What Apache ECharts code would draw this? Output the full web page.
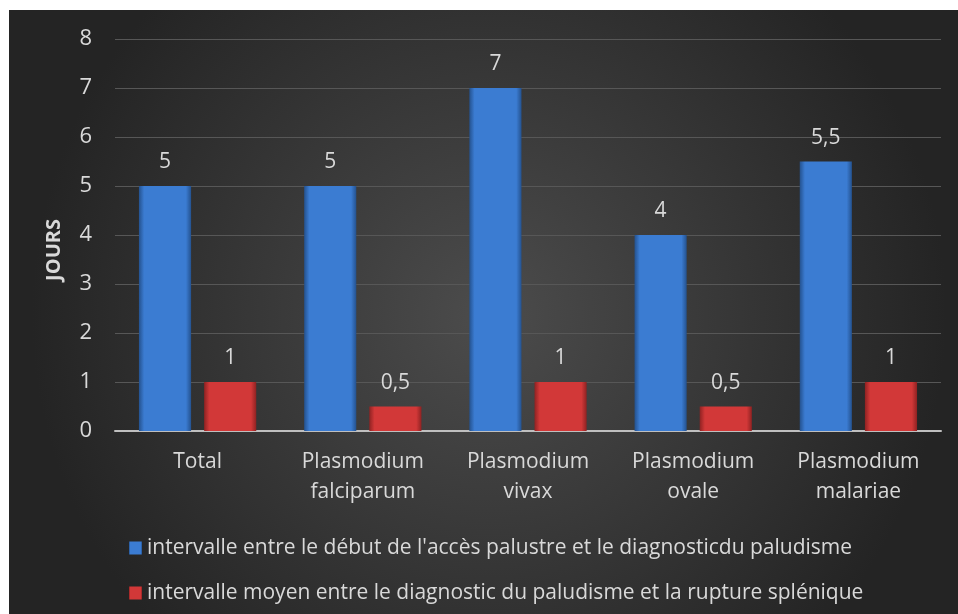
<!DOCTYPE html>
<html>
<head>
<meta charset="utf-8">
<script src="https://cdn.jsdelivr.net/npm/echarts@6/dist/echarts.min.js"></script>
<style>
  html, body { margin: 0; padding: 0; background: #ffffff; }
  #chart { width: 958px; height: 614px; }
</style>
</head>
<body>
<div id="chart"></div>
<script>
// Categories and values (days)
const categories = ['Total', 'Plasmodium\nfalciparum', 'Plasmodium\nvivax', 'Plasmodium\novale', 'Plasmodium\nmalariae'];
const delayDiagnosis = [5, 5, 7, 4, 5.5];
const delayRupture = [1, 0.5, 1, 0.5, 1];
const seriesNames = [
  "intervalle entre le début de l'accès palustre et le diagnosticdu paludisme",
  "intervalle moyen entre le diagnostic du paludisme et la rupture splénique"
];
const yTicks = { min: 0, max: 8, interval: 1 };

const FONT = '"Open Sans", "Liberation Sans", sans-serif';
const TXT = '#d9d9d9';

function barFill(edge, mid) {
  return new echarts.graphic.LinearGradient(0, 0, 1, 0, [
    { offset: 0, color: edge },
    { offset: 0.1, color: mid },
    { offset: 0.9, color: mid },
    { offset: 1, color: edge }
  ]);
}

const valueLabel = {
  show: true,
  position: 'top',
  distance: 13,
  color: TXT,
  fontFamily: FONT,
  fontSize: 21,
  formatter: p => String(p.value).replace('.', ',')
};

const chart = echarts.init(document.getElementById('chart'), null, { renderer: 'canvas' });
chart.setOption({
  backgroundColor: '#ffffff',
  animation: false,
  graphic: [
    {
      type: 'rect',
      z: -10,
      silent: true,
      shape: { x: 9, y: 10, width: 960, height: 610 },
      style: {
        fill: new echarts.graphic.RadialGradient(0.5, 0.5, 0.75, [
          { offset: 0, color: '#4c4c4c' },
          { offset: 1, color: '#242424' }
        ])
      }
    },
    {
      type: 'text',
      left: 44,
      top: 219,
      rotation: Math.PI / 2,
      style: {
        text: 'JOURS',
        fill: TXT,
        font: 'bold 20px ' + FONT
      }
    }
  ],
  grid: { left: 115, right: 17, top: 39, bottom: 183, containLabel: false },
  legend: {
    orient: 'vertical',
    left: 124,
    top: 532,
    itemWidth: 13,
    itemHeight: 13,
    itemGap: 23,
    icon: 'rect',
    textStyle: { color: TXT, fontFamily: FONT, fontSize: 21, lineHeight: 22 },
    data: seriesNames
  },
  xAxis: {
    type: 'category',
    data: categories,
    axisLine: { lineStyle: { color: '#bfbfbf', width: 2 } },
    axisTick: { show: false },
    axisLabel: {
      color: TXT,
      fontFamily: FONT,
      fontSize: 21,
      lineHeight: 30,
      margin: 16,
      interval: 0
    }
  },
  yAxis: {
    type: 'value',
    min: yTicks.min,
    max: yTicks.max,
    interval: yTicks.interval,
    axisLine: { show: false },
    axisTick: { show: false },
    splitLine: { lineStyle: { color: '#575757', width: 1 } },
    axisLabel: {
      color: TXT,
      fontFamily: FONT,
      fontSize: 22,
      margin: 23
    }
  },
  series: [
    {
      name: seriesNames[0],
      type: 'bar',
      data: delayDiagnosis,
      barGap: '25%',
      barCategoryGap: '29%',
      itemStyle: { color: barFill('#24528f', '#3b7cd2') },
      label: valueLabel
    },
    {
      name: seriesNames[1],
      type: 'bar',
      data: delayRupture,
      itemStyle: { color: barFill('#8f2222', '#d23838') },
      label: valueLabel
    }
  ]
});
</script>
</body>
</html>
